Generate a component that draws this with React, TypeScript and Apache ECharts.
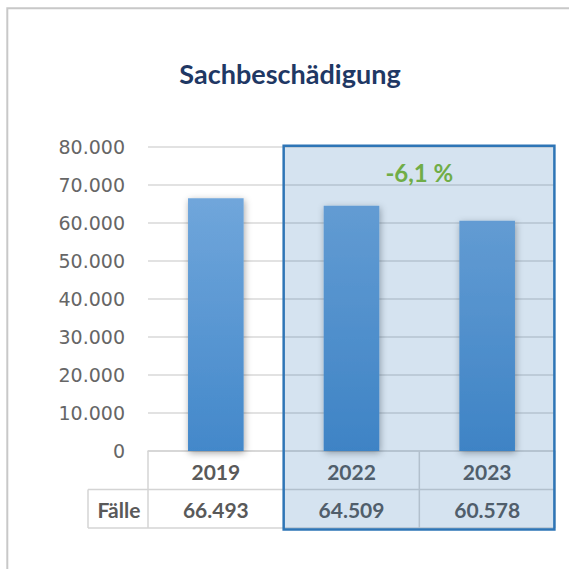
import React, { useEffect, useRef } from 'react';
import * as echarts from 'echarts';

const chartTitle = 'Sachbeschädigung';
const categories = ['2019', '2022', '2023'];
const faelle = [66493, 64509, 60578];
const rowLabel = 'Fälle';
const highlightFrom = '2022';
const changeLabel = '-6,1 %';
const yMin = 0;
const yMax = 80000;
const yInterval = 10000;

const fmt = (v: number) => String(v).replace(/\B(?=(\d{3})+(?!\d))/g, '.');

const TXT = '#595959';
const LINE = '#d4d4d4';

export default function App() {
  const ref = useRef<HTMLDivElement>(null);
  useEffect(() => {
    if (!ref.current) return;
    const chart = echarts.init(ref.current, null, { renderer: 'svg' });
    chart.setOption({
      animation: false,
      backgroundColor: '#ffffff',
      title: {
        text: chartTitle,
        left: 285,
        top: 55,
        textAlign: 'center',
        textStyle: { fontFamily: 'Lato', fontWeight: 'bold', fontSize: 27, color: '#1F3864' },
      },
      grid: { left: 148, right: 14, top: 147, bottom: 118 },
      xAxis: {
        type: 'category',
        data: categories,
        axisLine: { show: true, lineStyle: { color: LINE, width: 1.5 } },
        axisTick: { show: false },
        axisLabel: { show: false },
      },
      yAxis: {
        type: 'value',
        min: yMin,
        max: yMax,
        interval: yInterval,
        axisLine: { show: false },
        axisTick: { show: false },
        splitLine: { lineStyle: { color: '#d9d9d9', width: 1.5 } },
        axisLabel: {
          margin: 23,
          formatter: (v: number) => fmt(v),
          fontFamily: 'DejaVu Sans',
          fontWeight: 'normal',
          fontSize: 19,
          color: '#666666',
        },
      },
      series: [
        {
          type: 'bar',
          data: faelle,
          barWidth: '41%',
          itemStyle: {
            color: new echarts.graphic.LinearGradient(0, 0, 0, 1, [
              { offset: 0, color: '#70A6DB' },
              { offset: 1, color: '#4388CA' },
            ]),
            shadowColor: 'rgba(0,0,0,0.35)',
            shadowBlur: 7,
            shadowOffsetX: 1,
            shadowOffsetY: 2,
          },
        },
      ],
    });

    const c0 = chart.convertToPixel({ xAxisIndex: 0 }, categories[0]) as number;
    const c1 = chart.convertToPixel({ xAxisIndex: 0 }, categories[1]) as number;
    const band = c1 - c0;
    const plotLeft = c0 - band / 2;
    const plotRight = plotLeft + band * categories.length;
    const y0 = chart.convertToPixel({ yAxisIndex: 0 }, yMin) as number;
    const yTop = chart.convertToPixel({ yAxisIndex: 0 }, yMax) as number;
    const rowMid = y0 + 38.5;
    const rowBottom = y0 + 77;
    const labelLeft = plotLeft - 60;

    const g: any[] = [];
    const line = (x1: number, y1: number, x2: number, y2: number) =>
      g.push({ type: 'line', z: 40, shape: { x1, y1, x2, y2 }, style: { stroke: LINE, lineWidth: 1.5 } });

    line(labelLeft, rowMid, plotRight, rowMid);
    line(labelLeft, rowBottom, plotRight, rowBottom);
    line(labelLeft, rowMid, labelLeft, rowBottom);
    for (let i = 0; i <= categories.length; i++) {
      const x = plotLeft + band * i;
      line(x, y0, x, rowBottom);
    }
    const tStyle = (text: string, x: number, y: number) => ({
      type: 'text',
      z: 50,
      x,
      y,
      style: {
        text,
        fontFamily: 'Lato',
        fontWeight: 'bold',
        fontSize: 21,
        fill: TXT,
        align: 'center',
        verticalAlign: 'middle',
      },
    });
    categories.forEach((c, i) => {
      const cx = plotLeft + band * (i + 0.5);
      g.push(tStyle(c, cx, (y0 + rowMid) / 2 + 1));
      g.push(tStyle(fmt(faelle[i]), cx, (rowMid + rowBottom) / 2 + 1));
    });
    g.push(tStyle(rowLabel, (labelLeft + plotLeft) / 2 + 1, (rowMid + rowBottom) / 2 + 1));

    const hiIdx = categories.indexOf(highlightFrom);
    const boxLeft = plotLeft + band * hiIdx;
    const boxTop = yTop - 1.2;
    const boxBottom = rowBottom + 1.5;
    g.push({
      type: 'rect',
      z: 100,
      shape: { x: boxLeft, y: boxTop, width: plotRight - 0.6 - boxLeft, height: boxBottom - boxTop },
      style: { fill: 'rgba(46,117,182,0.2)', stroke: '#2E75B6', lineWidth: 2.5 },
    });
    g.push({
      type: 'text',
      z: 110,
      x: (boxLeft + plotRight) / 2,
      y: 172,
      style: {
        text: changeLabel,
        fontFamily: 'Lato',
        fontWeight: 'bold',
        fontSize: 24,
        fill: '#70AD47',
        align: 'center',
        verticalAlign: 'middle',
      },
    });
    g.push({
      type: 'rect',
      z: 120,
      shape: { x: 7.3, y: 8.3, width: 700, height: 700 },
      style: { fill: 'none', stroke: '#c8c8c8', lineWidth: 2 },
    });

    chart.setOption({ graphic: g });
    return () => chart.dispose();
  }, []);
  return <div ref={ref} style={{ position: 'fixed', left: 0, top: 0, width: 569, height: 569 }} />;
}
